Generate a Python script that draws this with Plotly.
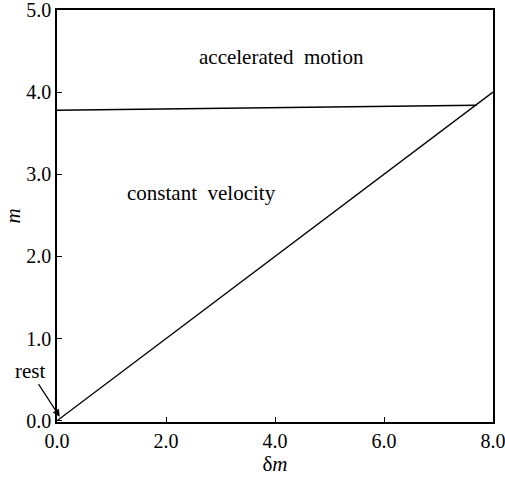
import plotly.graph_objects as go

# data
boundary_dm = [0.0, 7.7]          # accelerated / constant velocity boundary
boundary_m = [3.78, 3.84]
diag_dm = [0.0, 8.0]              # constant velocity / rest boundary
diag_m = [0.0, 4.0]
x_ticks = [0, 2, 4, 6, 8]
x_labels = ["0.0", "2.0", "4.0", "6.0", "8.0"]
y_ticks = [0, 1, 2, 3, 4, 5]
y_labels = ["0.0", "1.0", "2.0", "3.0", "4.0", "5.0"]
region_labels = ["accelerated  motion", "constant  velocity"]
region_x = [4.12, 2.66]
region_y = [4.43, 2.77]

fam = "Liberation Serif, Times New Roman, serif"
font = dict(family=fam, size=21, color="black")
tfont = dict(family=fam, size=20, color="black")

fig = go.Figure()
fig.add_trace(go.Scatter(x=boundary_dm, y=boundary_m, mode="lines",
                         line=dict(color="black", width=1.6), showlegend=False, hoverinfo="skip"))
fig.add_trace(go.Scatter(x=diag_dm, y=diag_m, mode="lines",
                         line=dict(color="black", width=1.4), showlegend=False, hoverinfo="skip"))

for t, x, y in zip(region_labels, region_x, region_y):
    fig.add_annotation(x=x, y=y, xref="x", yref="y", text=t, showarrow=False, font=font)

fig.add_annotation(x=0.05, y=0.05, xref="x", yref="y", text="rest", showarrow=True,
                   ax=-30, ay=-46, arrowhead=2, arrowsize=1.2, arrowwidth=1.2,
                   arrowcolor="black", font=font)

fig.update_layout(
    width=505, height=477,
    margin=dict(l=57, r=12, t=10, b=55),
    plot_bgcolor="white", paper_bgcolor="white",
    font=font,
    xaxis=dict(range=[0, 8.0], tickvals=x_ticks, ticktext=x_labels,
               showgrid=False, zeroline=False, showline=True, mirror=True,
               linecolor="black", linewidth=1.5, ticks="inside", ticklen=5,
               tickcolor="black", tickfont=tfont, automargin=False,
               ticklabeloverflow="allow",
               title=dict(text="δ<i>m</i>", font=font, standoff=0)),
    yaxis=dict(range=[-0.015, 5.0], tickvals=y_ticks, ticktext=y_labels,
               showgrid=False, zeroline=False, showline=True, mirror=True,
               linecolor="black", linewidth=1.5, ticks="inside", ticklen=5,
               tickcolor="black", tickfont=tfont, automargin=False,
               ticklabeloverflow="allow",
               title=dict(text="<i>m</i>", font=font, standoff=0)),
)

fig.write_html("out.html")
